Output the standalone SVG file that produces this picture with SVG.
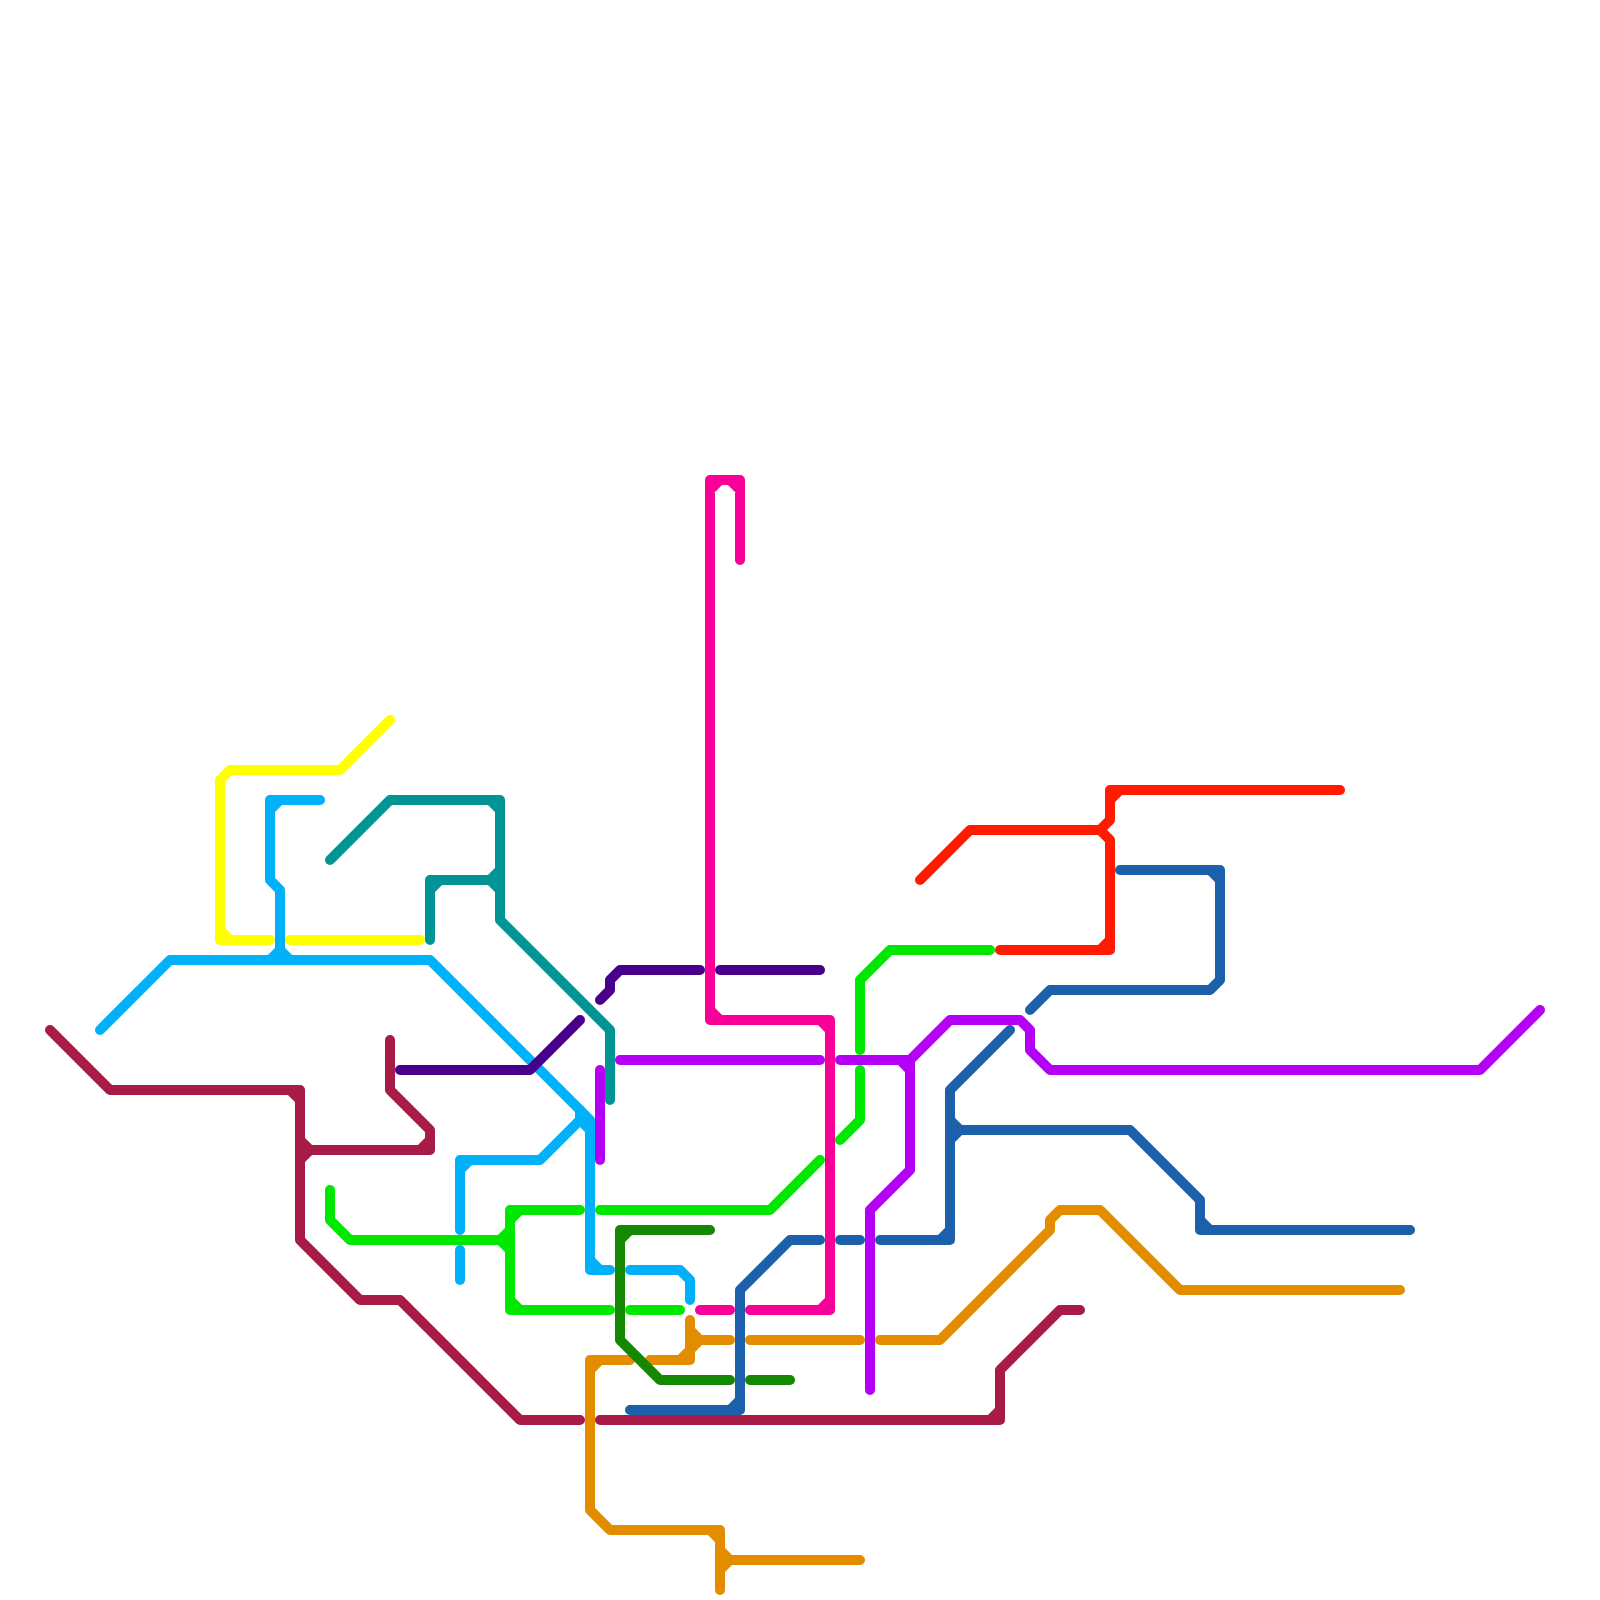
<svg xmlns="http://www.w3.org/2000/svg" width="1600" height="1600" viewBox="0 0 1600 1600">
<style>
path{fill:none;stroke-width:10;stroke-linecap:round;stroke-linejoin:round}
.yellow{stroke:#ffff00}.sky{stroke:#00b0f8}.maroon{stroke:#a81b46}.teal{stroke:#009494}.indigo{stroke:#48008c}.purple{stroke:#b400f4}.green{stroke:#00e800}.forest{stroke:#148800}.orange{stroke:#e48c00}.red{stroke:#ff1a00}.blue{stroke:#1c60ac}.pink{stroke:#f80098}
</style>
<rect width="1600" height="1600" fill="#ffffff"/>
<g id="connectors">
<g id="line-yellow" class="yellow">
<path d="M390 720L340 770H230L220 780V940H270M220 930L230 940"/>
<path d="M290 940H420"/>
</g>
<g id="line-sky" class="sky">
<path d="M320 800H270V880L280 890V960M270 810L280 800M270 960L280 950L290 960"/>
<path d="M100 1030L170 960H430L590 1120V1270H610M590 1260L600 1270"/>
<path d="M630 1270H680L690 1280V1300"/>
<path d="M460 1230V1160H540L580 1120V1110M460 1170L470 1160M580 1120L590 1130"/>
<path d="M460 1250V1280"/>
</g>
<g id="line-maroon" class="maroon">
<path d="M50 1030L110 1090H300V1240L360 1300H400L520 1420H580M290 1090L300 1100"/>
<path d="M390 1040V1090L430 1130V1150H300M430 1140L420 1150M300 1140L310 1150L300 1160"/>
<path d="M600 1420H1000V1370L1060 1310H1080M1000 1410L990 1420"/>
</g>
<g id="line-teal" class="teal">
<path d="M330 860L390 800H500V920L610 1030V1100M490 800L500 810"/>
<path d="M430 940V880H500M430 890L440 880M500 870L490 880L500 890"/>
</g>
<g id="line-indigo" class="indigo">
<path d="M580 1020L530 1070H400"/>
<path d="M600 1000L610 990V980L620 970H700"/>
<path d="M720 970H820"/>
</g>
<g id="line-purple" class="purple">
<path d="M600 1070V1160"/>
<path d="M620 1060H820"/>
<path d="M840 1060H910V1170L870 1210V1390M900 1060L910 1070"/>
<path d="M910 1060L950 1020H1020L1030 1030V1050L1050 1070H1480L1540 1010"/>
</g>
<g id="line-green" class="green">
<path d="M330 1190V1220L350 1240H510"/>
<path d="M580 1210H510V1310H610M510 1220L520 1210M510 1300L520 1310M510 1230L500 1240L510 1250"/>
<path d="M600 1210H770L820 1160"/>
<path d="M630 1310H680"/>
<path d="M840 1140L860 1120V1070"/>
<path d="M860 1050V980L890 950H990"/>
</g>
<g id="line-orange" class="orange">
<path d="M630 1360H590V1510L610 1530H720V1590M590 1370L600 1360M710 1530L720 1540"/>
<path d="M720 1560H860M720 1550L730 1560L720 1570"/>
<path d="M650 1360H690V1320M680 1360L700 1340M690 1340H730M690 1330L700 1340"/>
<path d="M750 1340H860"/>
<path d="M880 1340H940L1050 1230V1220L1060 1210H1100L1180 1290H1400"/>
</g>
<g id="line-forest" class="forest">
<path d="M710 1230H620V1340L660 1380H730M620 1240L630 1230"/>
<path d="M750 1380H790"/>
</g>
<g id="line-red" class="red">
<path d="M920 880L970 830H1100L1110 840V950H1000M1110 940L1100 950"/>
<path d="M1340 790H1110V820L1100 830M1110 800L1120 790"/>
</g>
<g id="line-blue" class="blue">
<path d="M1120 870H1220V980L1210 990H1050L1030 1010M1210 870L1220 880"/>
<path d="M1010 1030L950 1090V1240H880M950 1230L940 1240"/>
<path d="M950 1130H1130L1200 1200V1230H1410M950 1120L960 1130L950 1140M1200 1220L1210 1230"/>
<path d="M840 1240H860"/>
<path d="M820 1240H790L740 1290V1410H630M740 1400L730 1410"/>
</g>
<g id="line-pink" class="pink">
<path d="M740 560V480H710V1020H830V1310H750M710 490L720 480M740 490L730 480M710 1010L720 1020M820 1020L830 1030M830 1300L820 1310"/>
<path d="M700 1310H730"/>
</g>
</g>
</svg>
